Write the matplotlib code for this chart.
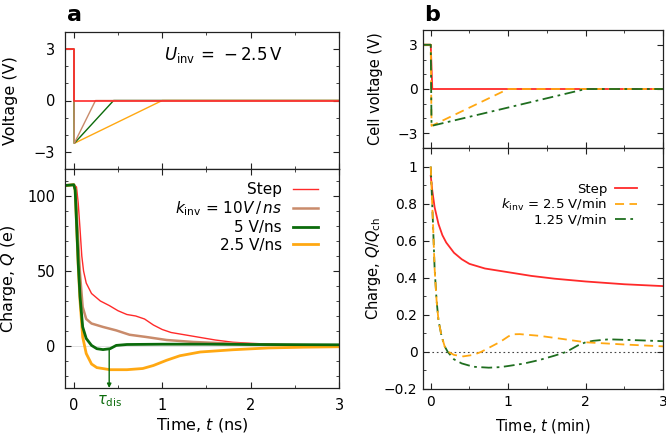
import matplotlib
matplotlib.use("Agg")
import matplotlib.pyplot as plt
from matplotlib.ticker import MultipleLocator, FuncFormatter
import numpy as np

plt.rcParams['font.family'] = ['DejaVu Sans']
plt.rcParams['mathtext.fontset'] = 'dejavusans'

# ---------------- data: panel a ----------------
# voltage protocol (ns, V)
va_t_step = [-0.1, 0.0, 0.0, 3.0]
va_v_step = [3.0, 3.0, 0.0, 0.0]
va_t_10 = [-0.1, 0.0, 0.005, 0.245, 3.0]
va_v_10 = [3.0, 3.0, -2.5, 0.0, 0.0]
va_t_5 = [-0.1, 0.0, 0.005, 0.45, 3.0]
va_v_5 = [3.0, 3.0, -2.5, 0.0, 0.0]
va_t_25 = [-0.1, 0.0, 0.005, 1.0, 3.0]
va_v_25 = [3.0, 3.0, -2.5, 0.0, 0.0]

# charge (ns, e)
qa_t_step = [-0.1, 0.0, 0.03, 0.05, 0.07, 0.09, 0.11, 0.14, 0.2, 0.3, 0.4, 0.5, 0.6,
             0.7, 0.8, 0.9, 1.0, 1.1, 1.2, 1.4, 1.6, 1.8, 2.0, 2.3, 2.6, 3.0]
qa_q_step = [107, 107.5, 106, 95, 78, 60, 50, 42, 35, 30, 27, 23.5, 21,
             20, 18, 14, 11, 9, 8, 6, 4, 2.5, 1.8, 1.0, 0.5, 0.3]
qa_t_10 = [-0.1, 0.0, 0.02, 0.04, 0.07, 0.1, 0.14, 0.2, 0.33, 0.48, 0.63, 0.82,
           1.05, 1.35, 1.7, 2.0, 2.5, 3.0]
qa_q_10 = [107, 107.5, 104, 80, 48, 26, 18, 15, 12.7, 10.4, 7.5, 6, 4, 2.7, 1.8,
           1.2, 0.6, 0.3]
qa_t_5 = [-0.1, 0.0, 0.015, 0.05, 0.07, 0.1, 0.14, 0.2, 0.26, 0.33, 0.41, 0.48, 0.6,
          1.0, 1.5, 2.0, 2.5, 3.0]
qa_q_5 = [107, 107.5, 104, 55, 33, 12.7, 5, 0.4, -1.8, -2.4, -1.8, 0.4, 1.0,
          1.2, 1.2, 1.0, 0.9, 0.8]
qa_t_25 = [-0.1, 0.0, 0.015, 0.05, 0.07, 0.1, 0.14, 0.2, 0.26, 0.41, 0.6, 0.78,
           0.9, 1.05, 1.2, 1.43, 1.8, 2.2, 2.6, 3.0]
qa_q_25 = [107, 107.5, 104, 53, 30, 6, -5, -12, -14.4, -15.8, -15.8, -15, -13,
           -9.5, -6.5, -4, -2.5, -1.3, -0.8, -0.5]
tau_dis = 0.4

# ---------------- data: panel b ----------------
vb_t_step = [-0.1, 0.0, 0.02, 3.0]
vb_v_step = [3.0, 3.0, 0.0, 0.0]
vb_t_25 = [-0.1, 0.0, 0.01, 1.0, 3.0]
vb_v_25 = [3.0, 3.0, -2.5, 0.0, 0.0]
vb_t_125 = [-0.1, 0.0, 0.01, 2.0, 3.0]
vb_v_125 = [3.0, 3.0, -2.5, 0.0, 0.0]

qb_t_step = [0.0, 0.02, 0.05, 0.1, 0.15, 0.2, 0.3, 0.4, 0.5, 0.7, 1.0, 1.3, 1.6,
             2.0, 2.5, 3.0]
qb_q_step = [0.95, 0.87, 0.78, 0.69, 0.63, 0.59, 0.535, 0.50, 0.475, 0.45, 0.43,
             0.41, 0.395, 0.38, 0.365, 0.355]
qb_t_25 = [0.0, 0.03, 0.05, 0.075, 0.1, 0.14, 0.18, 0.23, 0.3, 0.42, 0.55, 0.65,
           0.75, 0.9, 1.0, 1.05, 1.15, 1.4, 1.7, 2.0, 2.5, 3.0]
qb_q_25 = [1.0, 0.68, 0.45, 0.28, 0.17, 0.085, 0.03, 0.0, -0.016, -0.024, -0.016,
           0.0, 0.022, 0.055, 0.083, 0.095, 0.096, 0.087, 0.07, 0.052, 0.04, 0.03]
qb_t_125 = [0.0, 0.03, 0.05, 0.075, 0.1, 0.14, 0.18, 0.22, 0.3, 0.4, 0.55, 0.75,
            0.9, 1.0, 1.2, 1.4, 1.6, 1.75, 1.9, 2.0, 2.1, 2.3, 2.6, 3.0]
qb_q_125 = [1.0, 0.68, 0.45, 0.28, 0.17, 0.085, 0.03, 0.0, -0.04, -0.062, -0.08,
            -0.085, -0.082, -0.076, -0.063, -0.044, -0.02, 0.0, 0.035, 0.052, 0.06,
            0.068, 0.064, 0.058]

RED = '#ff2a2a'
BROWN = '#c98b6b'
GREEN = '#0b6b0b'
ORANGE = '#ffa812'
BGREEN = '#1f6e1f'

def minus(v, pos):
    s = '%g' % v
    return s.replace('-', '\u2212')

fig = plt.figure(figsize=(6.66, 4.43), dpi=100)

def style(ax, fs, pad):
    for s in ax.spines.values():
        s.set_color('#222222')
        s.set_linewidth(0.9)
    ax.tick_params(which='both', direction='in', top=True, right=True,
                   colors='#222222', labelcolor='black', labelsize=fs, pad=pad)
    ax.tick_params(which='major', length=4, width=0.8)
    ax.tick_params(which='minor', length=2.2, width=0.6)
    ax.yaxis.set_major_formatter(FuncFormatter(minus))
    ax.xaxis.set_major_formatter(FuncFormatter(minus))

# ---- panel a voltage
axv = fig.add_axes([65/666, 1-169/443, 274/666, 137/443])
axv.plot(va_t_25, va_v_25, color=ORANGE, lw=1.0)
axv.plot(va_t_5, va_v_5, color=GREEN, lw=1.0)
axv.plot(va_t_10, va_v_10, color=BROWN, lw=1.0)
axv.plot(va_t_step, va_v_step, color=RED, lw=1.2)
axv.set_xlim(-0.1, 3)
axv.set_ylim(-4, 4)
axv.set_yticks([-3, 0, 3])
axv.yaxis.set_minor_locator(MultipleLocator(1))
axv.xaxis.set_major_locator(MultipleLocator(1))
axv.xaxis.set_minor_locator(MultipleLocator(0.5))
style(axv, 10.5, 7)
axv.tick_params(labelbottom=False)
axv.set_ylabel('Voltage (V)', fontsize=11.5)
axv.yaxis.set_label_coords((18 - 65) / 274, 0.5)
axv.text(1.69, 2.65, r'$U_{\mathrm{inv}}\,=\,-2.5\,\mathrm{V}$', fontsize=12,
         ha='center', va='center')

# ---- panel a charge
axq = fig.add_axes([65/666, 1-388/443, 274/666, 219/443])
axq.axhline(0, color='#dddddd', lw=0.6, zorder=0)
axq.plot(qa_t_step, qa_q_step, color=RED, lw=1.0, label='Step')
axq.plot(qa_t_10, qa_q_10, color=BROWN, lw=1.8, label=r'$k_{\mathrm{inv}}$ = 10$V\,/\,ns$')
axq.plot(qa_t_25, qa_q_25, color=ORANGE, lw=2.0, label='2.5 V/ns')
axq.plot(qa_t_5, qa_q_5, color=GREEN, lw=2.0, label='5 V/ns')
axq.set_xlim(-0.1, 3)
axq.set_ylim(-28, 118)
axq.set_yticks([0, 50, 100])
axq.yaxis.set_minor_locator(MultipleLocator(10))
axq.xaxis.set_major_locator(MultipleLocator(1))
axq.xaxis.set_minor_locator(MultipleLocator(0.5))
style(axq, 10.5, 7)
axq.set_ylabel(r'Charge, $Q$ (e)', fontsize=11.5)
axq.yaxis.set_label_coords((18 - 65) / 274, 0.5)
axq.set_xlabel(r'Time, $t$ (ns)', fontsize=11.5, labelpad=2)
axq.annotate('', xy=(tau_dis, -28), xytext=(tau_dis, -2.5),
             arrowprops=dict(arrowstyle='-|>', color=GREEN, lw=1.0,
                             mutation_scale=6, shrinkA=0, shrinkB=0))
axq.text(tau_dis, -31.5, r'$\tau_{\mathrm{dis}}$', color=GREEN, fontsize=10.5,
         ha='center', va='top')
h, l = axq.get_legend_handles_labels()
order = [0, 1, 3, 2]
leg = axq.legend([h[i] for i in order], [l[i] for i in order], loc='upper right',
                 bbox_to_anchor=((318 - 65) / 274, (388 - 182) / 219),
                 frameon=False, markerfirst=False, fontsize=11, handlelength=1.65,
                 labelspacing=0.15, borderaxespad=0, borderpad=0, handletextpad=0.72)
leg._legend_box.align = 'right'
fig.text(74/666, 1-15/443, 'a', fontsize=16, fontweight='bold', ha='center', va='center')

# ---- panel b voltage
bxv = fig.add_axes([423/666, 1-148/443, 240/666, 118/443])
bxv.plot(vb_t_step, vb_v_step, color=RED, lw=1.3)
bxv.plot(vb_t_25, vb_v_25, color=ORANGE, lw=1.3, ls=(0, (5, 3)))
bxv.plot(vb_t_125, vb_v_125, color=BGREEN, lw=1.3, ls=(0, (6, 2.5, 1.5, 2.5)))
bxv.set_xlim(-0.1, 3)
bxv.set_ylim(-4, 4)
bxv.set_yticks([-3, 0, 3])
bxv.yaxis.set_minor_locator(MultipleLocator(1))
bxv.xaxis.set_major_locator(MultipleLocator(1))
bxv.xaxis.set_minor_locator(MultipleLocator(0.5))
style(bxv, 10, 4)
bxv.tick_params(labelbottom=False)
bxv.set_ylabel('Cell voltage (V)', fontsize=10.5)
bxv.yaxis.set_label_coords((383 - 423) / 240, 0.5)

# ---- panel b charge
bxq = fig.add_axes([423/666, 1-389/443, 240/666, 241/443])
bxq.axhline(0, color='#444444', lw=0.8, ls=(0, (1.5, 2.5)), zorder=0)
bxq.plot(qb_t_step, qb_q_step, color=RED, lw=1.3, label='Step')
bxq.plot(qb_t_125, qb_q_125, color=BGREEN, lw=1.3, ls=(0, (6, 2.5, 1.5, 2.5)),
         label='1.25 V/min')
bxq.plot(qb_t_25, qb_q_25, color=ORANGE, lw=1.3, ls=(0, (5, 3)),
         label=r'$k_{\mathrm{inv}}$ = 2.5 V/min')
bxq.set_xlim(-0.1, 3)
bxq.set_ylim(-0.2, 1.1)
bxq.set_yticks([-0.2, 0, 0.2, 0.4, 0.6, 0.8, 1.0])
bxq.yaxis.set_minor_locator(MultipleLocator(0.1))
bxq.xaxis.set_major_locator(MultipleLocator(1))
bxq.xaxis.set_minor_locator(MultipleLocator(0.5))
style(bxq, 10, 4)
bxq.set_ylabel(r'Charge, $Q/Q_{\mathrm{ch}}$', fontsize=10.5)
bxq.yaxis.set_label_coords((383 - 423) / 240, 0.5)
bxq.set_xlabel(r'Time, $t$ (min)', fontsize=10.5, labelpad=6)
h, l = bxq.get_legend_handles_labels()
order = [0, 2, 1]
leg = bxq.legend([h[i] for i in order], [l[i] for i in order], loc='upper right',
                 bbox_to_anchor=((637 - 423) / 240, (389 - 183) / 241),
                 frameon=False, markerfirst=False, fontsize=9.5, handlelength=1.67,
                 labelspacing=0.05, borderaxespad=0, borderpad=0, handletextpad=0.6)
leg._legend_box.align = 'right'
fig.text(432/666, 1-15/443, 'b', fontsize=16, fontweight='bold', ha='center', va='center')

fig.savefig('out.png', dpi=100)
